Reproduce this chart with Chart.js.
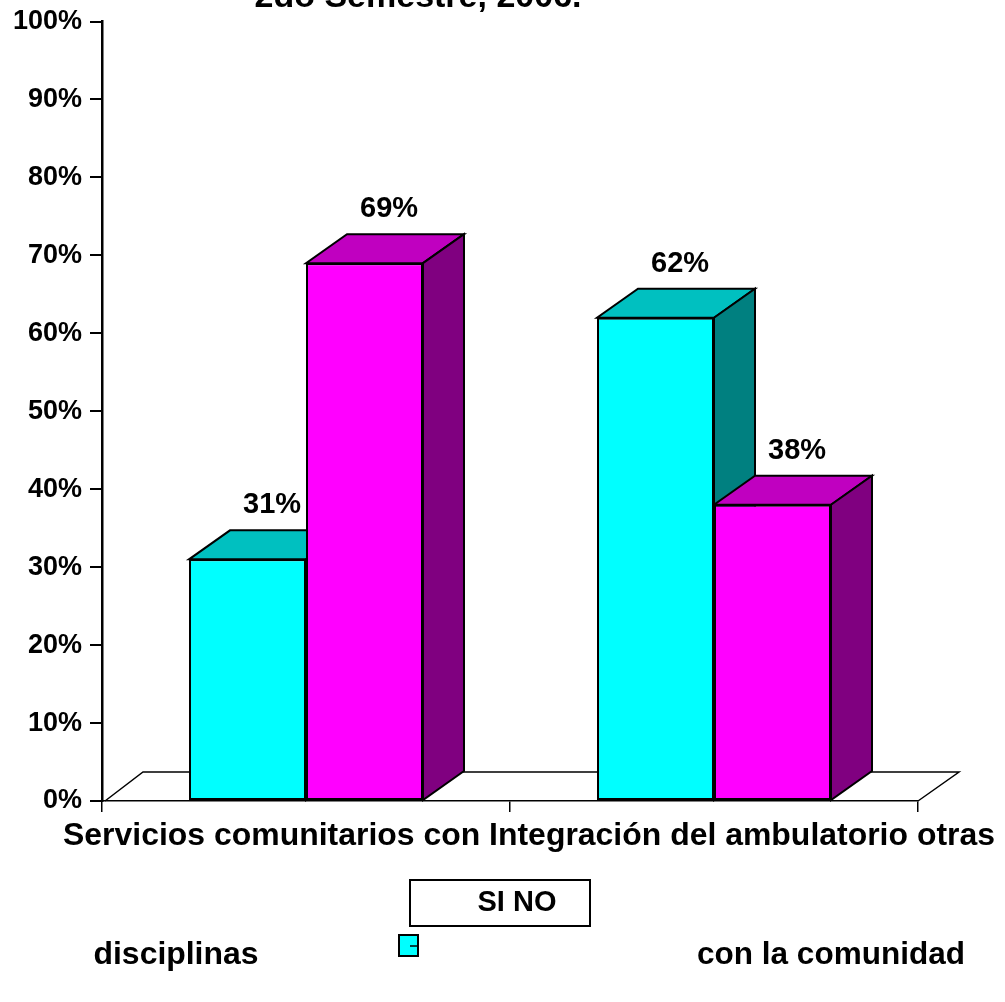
<!DOCTYPE html>
<html>
<head>
<meta charset="utf-8">
<script src="https://cdn.jsdelivr.net/npm/chart.js@4.4.1/dist/chart.umd.min.js"></script>
<style>
  html, body { margin: 0; padding: 0; background: #ffffff; }
  #wrap { width: 1005px; height: 1002px; position: relative; }
</style>
</head>
<body>
<div id="wrap"><canvas id="c" width="1005" height="1002"></canvas></div>
<script>
// ---- data ----
const categories = ["Servicios comunitarios con otras disciplinas", "Integración del ambulatorio con la comunidad"];
const seriesNames = ["SI", "NO"];
const siValues = [31, 62];
const noValues = [69, 38];
const yTickValues = [0, 10, 20, 30, 40, 50, 60, 70, 80, 90, 100];
const titleText = "2do Semestre, 2006.";
const axisLabelLine = "Servicios comunitarios con Integración del ambulatorio otras";
const axisLabelBottom = ["disciplinas", "con la comunidad"];

// ---- styles ----
const FONT = "'Liberation Sans', Arial, Helvetica, sans-serif";
const frontColors = ["#00FFFF", "#FF00FF"];
const topColors = ["#00C0C0", "#C000C0"];
const sideColors = ["#008080", "#800080"];
const DX = 41, DY = -29;

function poly(ctx, pts, fill) {
  ctx.beginPath();
  ctx.moveTo(pts[0][0], pts[0][1]);
  for (let i = 1; i < pts.length; i++) ctx.lineTo(pts[i][0], pts[i][1]);
  ctx.closePath();
  if (fill) { ctx.fillStyle = fill; ctx.fill(); }
  ctx.stroke();
}

function fitText(ctx, text, cx, cy, width, size) {
  ctx.font = "bold " + size + "px " + FONT;
  const w = ctx.measureText(text).width;
  const sx = width / w;
  ctx.save();
  ctx.translate(cx, cy);
  ctx.scale(sx, 1);
  ctx.textAlign = "center";
  ctx.textBaseline = "middle";
  ctx.fillStyle = "#000";
  ctx.fillText(text, 0, 0);
  ctx.restore();
}

const threeD = {
  id: "threeD",
  beforeDatasetsDraw(chart) {
    const ctx = chart.ctx;
    const a = chart.chartArea;
    ctx.save();
    ctx.strokeStyle = "#000";
    ctx.lineWidth = 1.5;
    ctx.lineJoin = "miter";
    // floor
    ctx.beginPath();
    ctx.moveTo(a.left + 3, a.bottom);
    ctx.lineTo(a.left + DX, a.bottom + DY);
    ctx.lineTo(a.right + DX, a.bottom + DY);
    ctx.lineTo(a.right, a.bottom);
    ctx.stroke();
    // top and side faces
    ctx.lineWidth = 2;
    chart.data.datasets.forEach((ds, di) => {
      const meta = chart.getDatasetMeta(di);
      meta.data.forEach((bar) => {
        const p = bar.getProps(["x", "y", "base", "width"], true);
        const l = p.x - p.width / 2, r = p.x + p.width / 2, t = p.y, b = p.base;
        poly(ctx, [[l, t], [r, t], [r + DX, t + DY], [l + DX, t + DY]], topColors[di]);
        poly(ctx, [[r, t], [r + DX, t + DY], [r + DX, b + DY], [r, b]], sideColors[di]);
      });
    });
    ctx.restore();
  },
  afterDatasetsDraw(chart) {
    const ctx = chart.ctx;
    ctx.save();
    ctx.fillStyle = "#000";
    ctx.font = "bold 29px " + FONT;
    ctx.textAlign = "center";
    ctx.textBaseline = "middle";
    chart.data.datasets.forEach((ds, di) => {
      const meta = chart.getDatasetMeta(di);
      meta.data.forEach((bar, i) => {
        const p = bar.getProps(["x", "y"], true);
        ctx.fillText(ds.data[i] + "%", p.x + DX * 0.6, p.y + DY - 25);
      });
    });
    ctx.restore();
  },
  afterDraw(chart) {
    const ctx = chart.ctx;
    ctx.save();
    // title (only the bottom of the last line is visible)
    ctx.fillStyle = "#000";
    ctx.font = "bold 34px " + FONT;
    ctx.textAlign = "center";
    ctx.textBaseline = "alphabetic";
    ctx.fillText(titleText, 418, 7);
    // category text rows
    fitText(ctx, axisLabelLine, 529, 836, 932, 31);
    fitText(ctx, axisLabelBottom[0], 176, 955, 165, 31);
    fitText(ctx, axisLabelBottom[1], 831, 955, 268, 31);
    // legend
    ctx.strokeStyle = "#000";
    ctx.lineWidth = 2;
    ctx.fillStyle = "#fff";
    ctx.fillRect(410, 880, 180, 46);
    ctx.strokeRect(410, 880, 180, 46);
    ctx.fillStyle = "#000";
    ctx.font = "bold 29px " + FONT;
    ctx.textAlign = "center";
    ctx.textBaseline = "middle";
    ctx.fillText(seriesNames.join(" "), 517, 903);
    ctx.fillStyle = frontColors[0];
    ctx.fillRect(399, 935, 19, 21);
    ctx.strokeRect(399, 935, 19, 21);
    ctx.lineWidth = 1.5;
    ctx.beginPath();
    ctx.moveTo(410, 946);
    ctx.lineTo(417, 946);
    ctx.stroke();
    ctx.restore();
  }
};

new Chart(document.getElementById("c"), {
  type: "bar",
  data: {
    labels: categories,
    datasets: [
      { label: seriesNames[0], data: siValues, backgroundColor: frontColors[0] },
      { label: seriesNames[1], data: noValues, backgroundColor: frontColors[1] }
    ]
  },
  options: {
    responsive: false,
    animation: false,
    devicePixelRatio: 1,
    layout: { padding: { top: 19, right: 87, left: 0, bottom: 0 } },
    datasets: {
      bar: {
        borderColor: "#000",
        borderWidth: 2,
        borderSkipped: false,
        barPercentage: 1,
        categoryPercentage: 0.5735
      }
    },
    plugins: {
      legend: { display: false },
      title: { display: false },
      tooltip: { enabled: false }
    },
    scales: {
      x: {
        offset: true,
        ticks: { display: false },
        grid: { display: true, drawOnChartArea: false, drawTicks: true, tickLength: 11, color: "#000", lineWidth: 1.5, offset: true },
        border: { display: true, color: "#000", width: 1.5 },
        afterFit(scale) { scale.height = 201; }
      },
      y: {
        min: 0,
        max: 100,
        afterBuildTicks(scale) { scale.ticks = yTickValues.map(v => ({ value: v })); },
        ticks: {
          callback: (v) => v + "%",
          color: "#000",
          font: { family: FONT, size: 27, weight: "bold", lineHeight: 1 },
          padding: 8
        },
        grid: { display: true, drawOnChartArea: false, drawTicks: true, tickLength: 12, color: "#000", lineWidth: 2 },
        border: { display: true, color: "#000", width: 2.5 },
        afterFit(scale) { scale.width = 102; }
      }
    }
  },
  plugins: [threeD]
});
</script>
</body>
</html>
